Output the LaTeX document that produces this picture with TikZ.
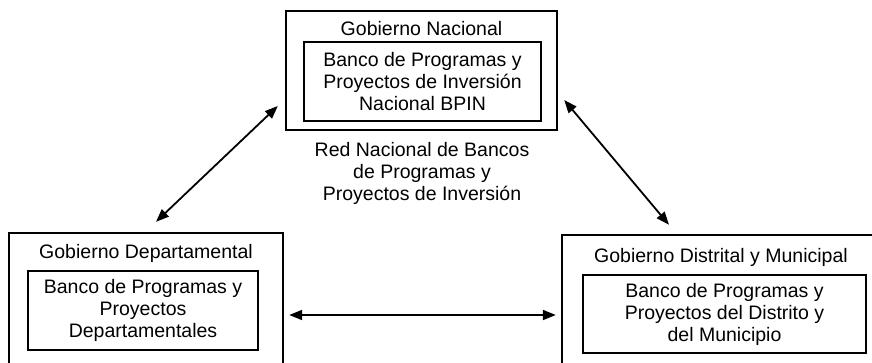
\documentclass[tikz,border=0pt]{standalone}
\usepackage{fontspec}
\setmainfont{Liberation Sans}
\usetikzlibrary{arrows.meta,positioning,calc}
\begin{document}
\begin{tikzpicture}[x=1pt,y=1pt,font=\fontsize{19.5}{22}\selectfont, line join=miter, >={Triangle[length=13pt,width=10pt]},
	marco/.style={draw,line width=2.4pt,inner sep=0pt},
	banco/.style={draw,line width=2.2pt,align=center,inner sep=0pt},
	titulo/.style={anchor=base,inner sep=0pt},
	flecha/.style={<->,line width=1.8pt}] %Red de bancos de proyectos
	\useasboundingbox (0,0) rectangle (872,362);
	% marcos de gobierno
	\node[marco,minimum width=271pt,minimum height=119pt] (nacional) at (421.5,291.5) {};
	\node[marco,minimum width=274pt,minimum height=135pt] (depto) at (146,61.5) {};
	\node[marco,minimum width=318pt,minimum height=133pt] (distrito) at (721,60.5) {};
	\node[titulo] (tNacional) at ($(nacional.north)+(0,-26)$) {Gobierno Nacional};
	\node[titulo] (tDepto) at ($(depto.north)+(0,-27)$) {Gobierno Departamental};
	\node[titulo] (tDistrito) at ($(distrito.north)+(0,-29)$) {Gobierno Distrital y Municipal};
	% bancos
	\node[banco,minimum width=237pt,minimum height=79pt] (bNacional) at (422.5,280.5) {Banco de Programas y\\Proyectos de Inversión\\Nacional BPIN};
	\node[banco,minimum width=230pt,minimum height=79pt] (bDepto) at (143,51.5) {Banco de Programas y\\Proyectos\\Departamentales};
	\node[banco,minimum width=283pt,minimum height=78pt] (bDistrito) at (724.5,48) {Banco de Programas y\\Proyectos del Distrito y\\del Municipio};
	\node[align=center] (red) at (422,189) {Red Nacional de Bancos\\de Programas y\\Proyectos de Inversión};
	% flechas
	\coordinate (n1) at ($(nacional.west)+(-7,-35.5)$);
	\coordinate (d1) at ($(depto.north)+(10,10)$);
	\coordinate (n2) at ($(nacional.east)+(6,-29.5)$);
	\coordinate (m1) at ($(distrito.north)+(-52,9)$);
	\coordinate (d2) at ($(depto.east)+(5,-14.5)$);
	\coordinate (m2) at ($(distrito.west)+(-5,-13.5)$);
	\draw[flecha] (n1)--(d1);
	\draw[flecha] (n2)--(m1);
	\draw[flecha] (d2)--(m2);
\end{tikzpicture}
\end{document}
